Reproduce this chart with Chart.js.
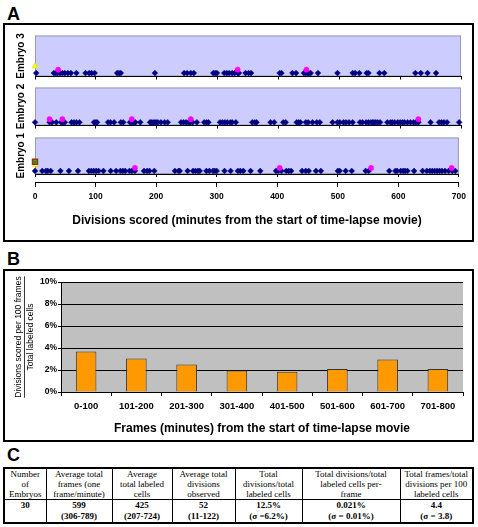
<!DOCTYPE html>
<html>
<head>
<meta charset="utf-8">
<script src="https://cdn.jsdelivr.net/npm/chart.js@4.4.0/dist/chart.umd.min.js"></script>
<style>
body { margin: 0; background: #fff; width: 478px; height: 527px; position: relative; overflow: hidden; font-family: "Liberation Sans", Arial, sans-serif; }
.etiqueta { position: absolute; font-weight: bold; font-size: 18px; line-height: 18px; color: #000; }
.caja { position: absolute; border: 2px solid #000; box-sizing: border-box; }
canvas { position: absolute; }
#tabla { position: absolute; left: 3px; top: 467px; width: 471px; height: 56px; border-collapse: collapse; table-layout: fixed; border: 2px solid #000; font-family: "Liberation Serif", "Times New Roman", serif; font-size: 9px; color: #000; }
#tabla td { border: 1px solid #000; text-align: center; padding: 0; }
#tabla tr.cab td { height: 30px; line-height: 10px; vertical-align: middle; }
#tabla tr.val td { height: 22px; line-height: 11px; vertical-align: top; font-weight: bold; }
</style>
</head>
<body>

<div class="etiqueta" style="left:7px;top:5px">A</div>
<div class="caja" style="left:3px;top:23px;width:471px;height:219px"></div>
<canvas id="embrion3" width="463" height="50" style="left:8px;top:31px"></canvas>
<canvas id="embrion2" width="463" height="47" style="left:8px;top:83px"></canvas>
<canvas id="embrion1" width="463" height="98" style="left:8px;top:132px"></canvas>

<div class="etiqueta" style="left:7px;top:250px">B</div>
<div class="caja" style="left:3px;top:269px;width:471px;height:173px"></div>
<canvas id="barras" width="465" height="162" style="left:6px;top:276px"></canvas>

<div class="etiqueta" style="left:7px;top:446px">C</div>
<table id="tabla"></table>

<script>
// Datos del panel A (minutos en que se marcó cada división)
const embrion3Divisiones = [2, 31, 34, 37, 41, 45, 49, 54, 59, 68, 83, 89, 93, 98, 135, 138, 141, 197, 245, 250, 256, 261, 293, 296, 299, 311, 315, 319, 324, 328, 333, 335, 346, 351, 355, 402, 405, 423, 429, 442, 445, 448, 450, 453, 465, 497, 522, 526, 533, 545, 548, 566, 574, 625, 634, 645, 659];
const embrion3Marcadas = [38, 333, 446];
const embrion3Amarillo = [0];

const embrion2Divisiones = [0, 24, 28, 35, 43, 46, 49, 60, 64, 68, 73, 97, 100, 102, 120, 124, 130, 141, 145, 156, 159, 162, 165, 173, 189, 191, 194, 197, 199, 202, 207, 213, 218, 240, 244, 248, 252, 255, 259, 266, 278, 282, 285, 304, 308, 312, 316, 321, 324, 330, 357, 361, 364, 387, 393, 408, 412, 430, 433, 436, 445, 449, 456, 463, 468, 489, 497, 501, 507, 511, 516, 522, 534, 538, 544, 548, 552, 555, 557, 560, 563, 567, 579, 584, 587, 591, 596, 600, 604, 607, 612, 617, 622, 626, 630, 650, 664, 668, 672, 677, 697];
const embrion2Marcadas = [24, 45, 159, 256, 630];

const embrion1Divisiones = [0, 12, 18, 21, 26, 42, 56, 71, 89, 93, 97, 101, 105, 113, 125, 134, 141, 145, 149, 156, 160, 165, 180, 185, 189, 197, 231, 237, 239, 252, 261, 265, 269, 272, 283, 288, 294, 297, 300, 313, 323, 335, 339, 344, 356, 372, 398, 402, 407, 415, 419, 423, 441, 447, 452, 464, 472, 500, 503, 513, 523, 546, 551, 585, 595, 598, 604, 608, 611, 615, 626, 640, 647, 652, 656, 660, 664, 668, 672, 677, 683, 689, 694];
const embrion1Marcadas = [165, 404, 555, 688];
const embrion1Amarillo = [0];
const embrion1Cuadro = [0];

// Datos del panel B
const intervalos = ['0-100', '101-200', '201-300', '301-400', '401-500', '501-600', '601-700', '701-800'];
const divisionesPor100 = [3.68, 3.05, 2.5, 1.95, 1.84, 2.1, 2.95, 2.1];

// Datos del panel C
const encabezados = [
    ['Number', 'of', 'Embryos'],
    ['Average total', 'frames (one', 'frame/minute)'],
    ['Average', 'total labeled', 'cells'],
    ['Average total', 'divisions', 'observed'],
    ['Total', 'divisions/total', 'labeled cells'],
    ['Total divisions/total', 'labeled cells per-', 'frame'],
    ['Total frames/total', 'divisions per 100', 'labeled cells']
];
const valores = ['30', '599', '425', '52', '12.5%', '0.021%', '4.4'];
const rangos = ['', '(306-789)', '(207-724)', '(11-122)', '(σ =6.2%)', '(σ = 0.01%)', '(σ = 3.8)'];
const anchosColumnas = [42, 66, 60, 63, 67, 98, 73];

Chart.defaults.font.family = '"Liberation Sans", Arial, sans-serif';
Chart.defaults.color = '#000';
Chart.defaults.animation = false;

// Fondo y marco del área de trazado
const fondoPlot = {
    id: 'fondoPlot',
    beforeDraw(chart, args, opts) {
        const a = chart.chartArea;
        const ctx = chart.ctx;
        ctx.save();
        ctx.fillStyle = opts.color;
        ctx.fillRect(a.left, a.top, a.right - a.left, a.bottom - a.top);
        if (opts.borde) {
            ctx.strokeStyle = opts.borde;
            ctx.lineWidth = 1;
            ctx.strokeRect(a.left + 0.5, a.top + 0.5, a.right - a.left - 1, a.bottom - a.top - 1);
        }
        ctx.restore();
    }
};

function puntos(xs, nivel) {
    return xs.map(function(x) { return { x: x, y: nivel }; });
}

function serie(xs, nivel, estilo, radio, relleno, borde, grosor) {
    return {
        data: puntos(xs, nivel),
        pointStyle: estilo,
        pointRadius: radio,
        backgroundColor: relleno,
        borderColor: borde,
        borderWidth: grosor,
        showLine: false,
        clip: false
    };
}

function crearEmbrion(id, titulo, datasets, conEje) {
    const escalas = {
        x: {
            type: 'linear', min: 0, max: 700, weight: 0,
            ticks: { display: false, stepSize: 100 },
            grid: { drawOnChartArea: false, drawTicks: true, tickLength: 3, color: '#000' },
            border: { color: '#000', width: 1 },
            afterFit: function(scale) { scale.height = conEje ? 8 : 3; }
        },
        y: {
            min: 0, max: 12,
            ticks: { display: false },
            grid: { display: false },
            border: { display: false },
            title: { display: true, text: titulo, font: { size: 10, weight: 'bold' }, padding: { top: 7, bottom: 0 } },
            afterFit: function(scale) { scale.width = 27; }
        }
    };
    if (conEje) {
        escalas.x2 = {
            type: 'linear', position: 'bottom', min: 0, max: 700, weight: 1,
            ticks: { stepSize: 100, font: { size: 8.5, weight: 'bold' }, padding: 5, maxRotation: 0 },
            grid: { drawOnChartArea: false, tickLength: 5, color: '#000' },
            border: { color: '#000', width: 1 },
            title: { display: true, text: 'Divisions scored (minutes from the start of time-lapse movie)', font: { size: 12, weight: 'bold' }, padding: { top: 4, bottom: 2 } },
            afterFit: function(scale) { scale.height = 48; }
        };
    }
    return new Chart(document.getElementById(id), {
        type: 'scatter',
        data: { datasets: datasets },
        options: {
            responsive: false,
            layout: { padding: { top: 1, right: 10, left: 0, bottom: 0 } },
            plugins: { legend: { display: false }, tooltip: { enabled: false }, fondoPlot: { color: '#CCCCFF', borde: '#9A9AB0' } },
            scales: escalas
        },
        plugins: [fondoPlot]
    });
}

crearEmbrion('embrion3', 'Embryo 3', [
    serie(embrion3Amarillo, 3, 'triangle', 3.4, '#FFFF00', '#D8D800', 0.5),
    serie(embrion3Marcadas, 2, 'circle', 2.6, '#FF00FF', '#FF00FF', 0.5),
    serie(embrion3Divisiones, 1, 'rectRot', 2.9, '#000080', '#000080', 0.5)
], false);

crearEmbrion('embrion2', 'Embryo 2', [
    serie(embrion2Marcadas, 2, 'circle', 2.6, '#FF00FF', '#FF00FF', 0.5),
    serie(embrion2Divisiones, 1, 'rectRot', 2.9, '#000080', '#000080', 0.5)
], false);

crearEmbrion('embrion1', 'Embryo 1', [
    serie(embrion1Cuadro, 4, 'crossRot', 2.5, '#009900', '#009900', 1),
    serie(embrion1Cuadro, 4, 'rect', 3.5, '#8A8A60', '#993300', 1.5),
    serie(embrion1Amarillo, 3, 'triangle', 3.2, '#FFFF00', '#D8D800', 0.5),
    serie(embrion1Marcadas, 2, 'circle', 2.6, '#FF00FF', '#FF00FF', 0.5),
    serie(embrion1Divisiones, 1, 'rectRot', 2.9, '#000080', '#000080', 0.5)
], true);

// Línea de fracción entre las dos líneas del título del eje y
const tituloY = { tam: 8.5, alto: 1.35, pad: 7 };
const lineaFraccion = {
    id: 'lineaFraccion',
    afterDraw(chart) {
        const ctx = chart.ctx;
        const a = chart.chartArea;
        const escala = chart.scales.y;
        const x = escala.left + tituloY.pad + tituloY.tam * tituloY.alto;
        ctx.save();
        ctx.font = tituloY.tam + 'px "Liberation Sans", Arial, sans-serif';
        const ancho = ctx.measureText('Divisions scored per 100 frames').width;
        const cy = (a.top + a.bottom) / 2;
        ctx.strokeStyle = '#000';
        ctx.lineWidth = 0.8;
        ctx.beginPath();
        ctx.moveTo(x, cy - ancho / 2);
        ctx.lineTo(x, cy + ancho / 2);
        ctx.stroke();
        ctx.restore();
    }
};

new Chart(document.getElementById('barras'), {
    type: 'bar',
    data: {
        labels: intervalos,
        datasets: [{
            data: divisionesPor100,
            backgroundColor: '#FF9900',
            borderColor: '#333333',
            borderWidth: 1,
            barPercentage: 0.41,
            categoryPercentage: 1
        }]
    },
    options: {
        responsive: false,
        layout: { padding: { top: 6, right: 8, left: 0, bottom: 0 } },
        plugins: { legend: { display: false }, tooltip: { enabled: false }, fondoPlot: { color: '#C0C0C0' } },
        scales: {
            x: {
                ticks: { font: { size: 9.5, weight: 'bold' }, padding: 5, maxRotation: 0 },
                grid: { drawOnChartArea: false, tickLength: 4, color: '#000' },
                border: { color: '#000', width: 1 },
                title: { display: true, text: 'Frames (minutes) from the start of time-lapse movie', font: { size: 12, weight: 'bold' }, padding: { top: 4, bottom: 2 } },
                afterFit: function(scale) { scale.height = 46; }
            },
            y: {
                min: 0, max: 10,
                ticks: { stepSize: 2, font: { size: 8.5, weight: 'bold' }, padding: 1, callback: function(v) { return v + '%'; } },
                grid: { color: '#000', lineWidth: 1, tickLength: 3 },
                border: { color: '#000', width: 1 },
                title: { display: true, text: ['Divisions scored per 100 frames', 'Total labeled cells'], font: { size: tituloY.tam, lineHeight: tituloY.alto }, padding: { top: tituloY.pad, bottom: 0 } },
                afterFit: function(scale) { scale.width = 55; }
            }
        }
    },
    plugins: [fondoPlot, lineaFraccion]
});

// Tabla del panel C
const tabla = document.getElementById('tabla');
const grupo = document.createElement('colgroup');
anchosColumnas.forEach(function(w) {
    const col = document.createElement('col');
    col.style.width = w + 'px';
    grupo.appendChild(col);
});
tabla.appendChild(grupo);
const filaCab = tabla.insertRow();
filaCab.className = 'cab';
encabezados.forEach(function(lineas) {
    filaCab.insertCell().innerHTML = lineas.join('<br>');
});
const filaVal = tabla.insertRow();
filaVal.className = 'val';
valores.forEach(function(v, i) {
    filaVal.insertCell().innerHTML = v + (rangos[i] ? '<br>' + rangos[i] : '');
});
</script>
</body>
</html>
